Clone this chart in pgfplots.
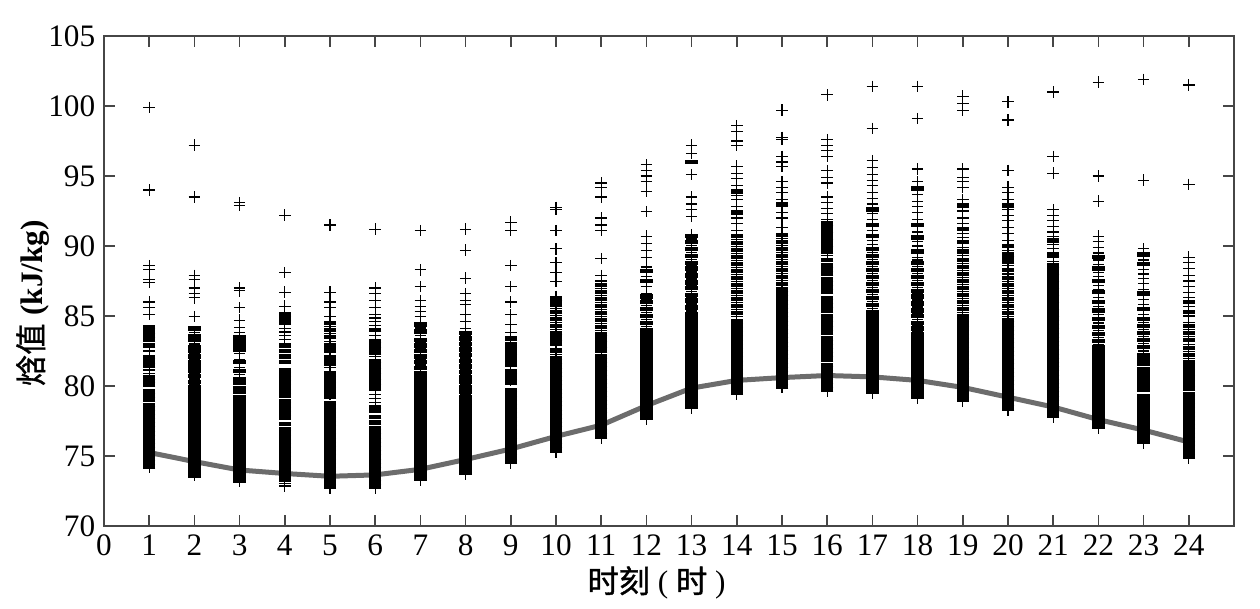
\documentclass[border=0pt]{standalone}
\usepackage{fontspec}
\setmainfont{Liberation Serif}
\newfontfamily\cjk[FakeBold=1.2]{Noto Sans CJK SC}
\usepackage{pgfplots}
\pgfplotsset{compat=1.18}
\definecolor{meanline}{RGB}{108,108,108}
\definecolor{frame}{RGB}{70,70,70}

\begin{document}
\begin{tikzpicture}
\begin{axis}[
  scale only axis, width=452pt, height=196pt,
  xmin=0, xmax=25, ymin=70, ymax=105,
  xtick={0,...,24}, ytick={70,75,...,105},
  tick align=inside, major tick length=4.5pt,
  axis line style={frame, line width=0.8pt},
  every tick/.style={frame, line width=0.6pt},
  tick label style={font=\fontsize{12.5}{14}\selectfont},
  /pgf/number format/assume math mode=true,
  xlabel={{\cjk 时刻} ( {\cjk 时} )},
  ylabel={{\cjk 焓值} \textbf{(kJ/kg)}},
  label style={font=\fontsize{12.5}{14}\selectfont},
  xlabel style={at={(axis description cs:0.489,-0.116)}, anchor=center},
  ylabel style={at={(axis description cs:-0.063,0.455)}, anchor=center},
]
% dense parts of each column
\addplot[only marks, mark=-, mark size=2.5pt, line width=1.7pt, mark options={line width=1.7pt}, black] coordinates {
(1,74.2)(1,74.5)(1,74.8)(1,75.1)(1,75.4)(1,75.7)(1,76.0)(1,76.3)(1,76.6)(1,76.9)(1,77.2)(1,77.5)(1,77.8)(1,78.1)(1,78.4)(1,78.65)(1,79.0)(1,79.3)(1,79.6)(1,80.05)(1,80.35)(1,80.6)(1,81.45)(1,81.75)(1,82.05)(1,82.9)(1,83.3)(1,83.6)(1,83.9)(1,84.2)
(2,73.6)(2,73.9)(2,74.2)(2,74.5)(2,74.8)(2,75.1)(2,75.4)(2,75.7)(2,76.0)(2,76.3)(2,76.6)(2,76.9)(2,77.2)(2,77.5)(2,77.8)(2,78.1)(2,78.45)(2,78.75)(2,79.05)(2,79.35)(2,79.65)(2,79.9)(2,80.3)(2,80.7)(2,81.1)(2,81.4)(2,81.7)(2,82.1)(2,82.5)(2,82.8)(2,83.3)(2,83.55)(2,84.1)
(3,73.2)(3,73.5)(3,73.8)(3,74.1)(3,74.4)(3,74.7)(3,75.0)(3,75.3)(3,75.6)(3,75.9)(3,76.2)(3,76.5)(3,76.8)(3,77.1)(3,77.4)(3,77.7)(3,78.0)(3,78.3)(3,78.6)(3,78.9)(3,79.2)(3,79.55)(3,79.85)(3,80.2)(3,80.5)(3,81.05)(3,81.7)(3,82.6)(3,82.9)(3,83.2)(3,83.5)
(4,73.3)(4,73.6)(4,73.9)(4,74.2)(4,74.5)(4,74.8)(4,75.1)(4,75.4)(4,75.7)(4,76.0)(4,76.3)(4,76.6)(4,76.95)(4,77.3)(4,77.7)(4,78.0)(4,78.3)(4,78.6)(4,78.95)(4,79.3)(4,79.6)(4,79.9)(4,80.2)(4,80.5)(4,80.8)(4,81.1)(4,81.7)(4,82.1)(4,82.5)(4,82.9)(4,84.5)(4,84.8)(4,85.1)
(5,72.8)(5,73.1)(5,73.4)(5,73.7)(5,74.0)(5,74.3)(5,74.6)(5,74.9)(5,75.2)(5,75.5)(5,75.8)(5,76.1)(5,76.4)(5,76.7)(5,77.0)(5,77.3)(5,77.6)(5,77.9)(5,78.2)(5,78.5)(5,78.8)(5,79.2)(5,79.6)(5,80.0)(5,80.4)(5,80.8)(5,81.6)(5,82.0)(5,82.5)(5,82.9)(5,83.5)(5,84.0)(5,84.5)
(6,72.8)(6,73.1)(6,73.4)(6,73.7)(6,74.0)(6,74.3)(6,74.6)(6,74.9)(6,75.2)(6,75.5)(6,75.8)(6,76.1)(6,76.4)(6,76.7)(6,77.0)(6,77.4)(6,77.8)(6,78.2)(6,78.5)(6,79.8)(6,80.2)(6,80.6)(6,81.0)(6,81.4)(6,81.8)(6,82.4)(6,82.9)(6,83.2)(6,84.0)
(7,73.4)(7,73.7)(7,74.0)(7,74.3)(7,74.6)(7,74.9)(7,75.2)(7,75.5)(7,75.8)(7,76.1)(7,76.4)(7,76.7)(7,77.0)(7,77.3)(7,77.6)(7,77.9)(7,78.2)(7,78.5)(7,78.8)(7,79.1)(7,79.4)(7,79.7)(7,80.0)(7,80.3)(7,80.6)(7,80.9)(7,81.3)(7,81.7)(7,82.1)(7,82.5)(7,82.9)(7,83.3)(7,83.9)(7,84.4)
(8,73.8)(8,74.1)(8,74.4)(8,74.7)(8,75.0)(8,75.3)(8,75.6)(8,75.9)(8,76.2)(8,76.5)(8,76.8)(8,77.1)(8,77.4)(8,77.7)(8,78.0)(8,78.3)(8,78.6)(8,78.9)(8,79.2)(8,79.6)(8,79.9)(8,80.3)(8,80.6)(8,81.0)(8,81.4)(8,81.8)(8,82.2)(8,82.6)(8,83.0)(8,83.4)(8,83.8)
(9,74.6)(9,74.9)(9,75.2)(9,75.5)(9,75.8)(9,76.1)(9,76.4)(9,76.7)(9,77.0)(9,77.3)(9,77.6)(9,77.9)(9,78.2)(9,78.5)(9,78.8)(9,79.1)(9,79.4)(9,79.7)(9,80.2)(9,80.6)(9,81.0)(9,81.5)(9,81.9)(9,82.4)(9,82.9)(9,83.4)
(10,75.4)(10,75.7)(10,76.0)(10,76.3)(10,76.6)(10,76.9)(10,77.2)(10,77.5)(10,77.8)(10,78.1)(10,78.4)(10,78.7)(10,79.0)(10,79.3)(10,79.6)(10,79.9)(10,80.2)(10,80.5)(10,80.8)(10,81.1)(10,81.4)(10,81.7)(10,82.0)(10,82.5)(10,83.0)(10,83.4)(10,83.8)(10,84.3)(10,84.8)(10,85.3)(10,85.8)(10,86.2)
(11,76.4)(11,76.7)(11,77.0)(11,77.3)(11,77.6)(11,77.9)(11,78.2)(11,78.5)(11,78.8)(11,79.1)(11,79.4)(11,79.7)(11,80.0)(11,80.3)(11,80.6)(11,80.9)(11,81.2)(11,81.5)(11,81.8)(11,82.1)(11,82.5)(11,82.9)(11,83.3)(11,83.7)(11,84.2)(11,84.7)(11,85.2)(11,85.7)(11,86.2)(11,86.7)(11,87.2)
(12,77.7)(12,78.0)(12,78.3)(12,78.6)(12,78.9)(12,79.2)(12,79.5)(12,79.8)(12,80.1)(12,80.4)(12,80.7)(12,81.0)(12,81.3)(12,81.6)(12,81.9)(12,82.2)(12,82.5)(12,82.8)(12,83.1)(12,83.4)(12,83.7)(12,84.0)(12,84.5)(12,85.0)(12,85.5)(12,86.0)(12,86.4)(12,87.5)(12,88.2)
(13,78.5)(13,78.8)(13,79.1)(13,79.4)(13,79.7)(13,80.0)(13,80.3)(13,80.6)(13,80.9)(13,81.2)(13,81.5)(13,81.8)(13,82.1)(13,82.4)(13,82.7)(13,83.0)(13,83.3)(13,83.6)(13,83.9)(13,84.2)(13,84.5)(13,84.8)(13,85.1)(13,85.6)(13,86.1)(13,86.5)(13,87.0)(13,87.4)(13,87.9)(13,88.4)(13,88.8)(13,89.3)(13,89.8)(13,90.3)(13,90.7)(13,96.0)
(14,79.5)(14,79.8)(14,80.1)(14,80.4)(14,80.7)(14,81.0)(14,81.3)(14,81.6)(14,81.9)(14,82.2)(14,82.5)(14,82.8)(14,83.1)(14,83.4)(14,83.7)(14,84.0)(14,84.3)(14,84.6)(14,85.2)(14,85.7)(14,86.2)(14,86.7)(14,87.2)(14,87.7)(14,88.2)(14,88.7)(14,89.2)(14,89.7)(14,90.2)(14,90.7)(14,92.4)(14,93.9)
(15,79.95)(15,80.25)(15,80.55)(15,80.85)(15,81.15)(15,81.45)(15,81.75)(15,82.05)(15,82.35)(15,82.65)(15,82.95)(15,83.25)(15,83.55)(15,83.85)(15,84.15)(15,84.45)(15,84.75)(15,85.05)(15,85.35)(15,85.65)(15,85.95)(15,86.25)(15,86.55)(15,86.85)(15,87.3)(15,87.8)(15,88.3)(15,88.8)(15,89.3)(15,89.8)(15,90.3)(15,90.8)(15,93.0)
(16,79.7)(16,80.0)(16,80.3)(16,80.6)(16,80.9)(16,81.2)(16,81.5)(16,81.9)(16,82.2)(16,82.5)(16,82.8)(16,83.1)(16,83.4)(16,83.8)(16,84.1)(16,84.4)(16,84.7)(16,85.0)(16,85.4)(16,85.7)(16,86.0)(16,86.3)(16,86.7)(16,87.0)(16,87.3)(16,87.6)(16,88.0)(16,88.3)(16,88.6)(16,89.0)(16,89.6)(16,90.1)(16,90.6)(16,91.1)(16,91.6)
(17,79.6)(17,79.9)(17,80.2)(17,80.5)(17,80.8)(17,81.1)(17,81.4)(17,81.7)(17,82.0)(17,82.3)(17,82.6)(17,82.9)(17,83.2)(17,83.5)(17,83.8)(17,84.1)(17,84.4)(17,84.7)(17,85.0)(17,85.3)(17,85.8)(17,86.3)(17,86.8)(17,87.3)(17,87.8)(17,88.3)(17,88.8)(17,89.3)(17,89.8)(17,90.7)(17,91.5)(17,92.6)
(18,79.2)(18,79.5)(18,79.8)(18,80.1)(18,80.4)(18,80.7)(18,81.0)(18,81.3)(18,81.6)(18,81.9)(18,82.2)(18,82.5)(18,82.8)(18,83.1)(18,83.4)(18,83.7)(18,84.1)(18,84.5)(18,85.0)(18,85.4)(18,85.9)(18,86.4)(18,86.8)(18,87.3)(18,87.8)(18,88.3)(18,88.8)(18,89.6)(18,90.6)(18,91.5)(18,94.1)
(19,79.0)(19,79.3)(19,79.6)(19,79.9)(19,80.2)(19,80.5)(19,80.8)(19,81.1)(19,81.4)(19,81.7)(19,82.0)(19,82.3)(19,82.6)(19,82.9)(19,83.2)(19,83.5)(19,83.8)(19,84.1)(19,84.4)(19,84.7)(19,85.0)(19,85.5)(19,86.0)(19,86.5)(19,87.0)(19,87.5)(19,88.0)(19,88.5)(19,89.0)(19,89.6)(19,90.3)(19,91.2)(19,92.9)
(20,78.4)(20,78.7)(20,79.0)(20,79.3)(20,79.6)(20,79.9)(20,80.2)(20,80.5)(20,80.8)(20,81.1)(20,81.4)(20,81.7)(20,82.0)(20,82.3)(20,82.6)(20,82.9)(20,83.2)(20,83.5)(20,83.8)(20,84.1)(20,84.4)(20,84.7)(20,85.2)(20,85.7)(20,86.2)(20,86.7)(20,87.2)(20,87.7)(20,88.3)(20,88.9)(20,89.4)(20,90.0)(20,92.9)
(21,77.9)(21,78.2)(21,78.5)(21,78.8)(21,79.1)(21,79.4)(21,79.7)(21,80.0)(21,80.3)(21,80.6)(21,80.9)(21,81.2)(21,81.5)(21,81.8)(21,82.1)(21,82.4)(21,82.7)(21,83.0)(21,83.3)(21,83.6)(21,83.9)(21,84.2)(21,84.5)(21,84.8)(21,85.1)(21,85.6)(21,86.1)(21,86.6)(21,87.1)(21,87.6)(21,88.1)(21,88.6)(21,89.4)(21,90.4)
(22,77.1)(22,77.4)(22,77.7)(22,78.0)(22,78.3)(22,78.6)(22,78.9)(22,79.2)(22,79.5)(22,79.8)(22,80.1)(22,80.4)(22,80.7)(22,81.0)(22,81.3)(22,81.6)(22,81.9)(22,82.2)(22,82.5)(22,82.75)(22,83.2)(22,83.7)(22,84.2)(22,84.8)(22,85.4)(22,86.0)(22,86.7)(22,87.5)(22,88.4)(22,89.2)
(23,76.0)(23,76.3)(23,76.6)(23,76.9)(23,77.2)(23,77.5)(23,77.8)(23,78.1)(23,78.4)(23,78.7)(23,79.0)(23,79.3)(23,79.7)(23,80.0)(23,80.3)(23,80.6)(23,80.9)(23,81.2)(23,81.6)(23,81.9)(23,82.2)(23,82.8)(23,83.3)(23,83.8)(23,84.3)(23,84.8)(23,85.5)(23,86.6)(23,88.7)(23,89.4)
(24,74.95)(24,75.25)(24,75.55)(24,75.85)(24,76.15)(24,76.45)(24,76.75)(24,77.05)(24,77.35)(24,77.65)(24,77.95)(24,78.25)(24,78.55)(24,78.85)(24,79.15)(24,79.45)(24,79.8)(24,80.1)(24,80.5)(24,80.9)(24,81.3)(24,81.7)(24,82.2)(24,82.7)(24,83.3)(24,83.8)(24,84.3)(24,85.3)(24,86.0)
};
% single readings
\addplot[only marks, mark=+, mark size=2.3pt, line width=0.5pt, mark options={line width=0.5pt}, black] coordinates {
(1,74.2)(1,80.9)(1,81.15)(1,82.5)(1,85.1)(1,85.6)(1,86.0)(1,87.4)(1,87.6)(1,88.3)(1,88.6)(1,94.0)(1,99.9)
(2,73.6)(2,80.1)(2,80.5)(2,80.9)(2,81.25)(2,81.9)(2,82.3)(2,82.65)(2,83.0)(2,83.8)(2,84.95)(2,86.3)(2,86.6)(2,87.0)(2,87.6)(2,87.9)(2,93.5)(2,97.2)
(3,73.2)(3,80.8)(3,81.3)(3,81.9)(3,82.3)(3,83.8)(3,84.2)(3,84.7)(3,85.6)(3,86.8)(3,87.0)(3,92.9)(3,93.1)
(4,72.85)(4,73.05)(4,83.3)(4,83.6)(4,83.85)(4,84.1)(4,85.7)(4,86.7)(4,88.1)(4,92.2)
(5,72.7)(5,79.4)(5,79.8)(5,80.2)(5,80.6)(5,81.0)(5,81.3)(5,81.8)(5,82.2)(5,82.7)(5,83.2)(5,83.75)(5,84.25)(5,84.95)(5,85.6)(5,86.0)(5,86.7)(5,91.5)
(6,72.7)(6,78.8)(6,79.1)(6,79.4)(6,80.0)(6,80.4)(6,80.8)(6,81.2)(6,81.6)(6,82.1)(6,82.65)(6,83.6)(6,84.3)(6,84.6)(6,84.85)(6,85.1)(6,85.6)(6,86.1)(6,86.6)(6,87.0)(6,91.2)
(7,73.3)(7,81.5)(7,81.9)(7,82.7)(7,83.1)(7,83.6)(7,84.15)(7,84.95)(7,85.3)(7,85.7)(7,86.1)(7,87.1)(7,88.3)(7,91.1)
(8,73.7)(8,79.4)(8,80.1)(8,80.8)(8,81.2)(8,81.6)(8,82.0)(8,82.4)(8,82.8)(8,83.2)(8,83.6)(8,84.1)(8,84.6)(8,85.1)(8,85.8)(8,86.1)(8,86.6)(8,87.7)(8,89.7)(8,91.2)
(9,74.5)(9,80.4)(9,80.8)(9,81.2)(9,81.7)(9,82.15)(9,82.65)(9,83.1)(9,83.8)(9,84.4)(9,85.1)(9,86.0)(9,87.1)(9,88.6)(9,91.1)(9,91.7)
(10,75.3)(10,82.25)(10,82.7)(10,83.2)(10,83.6)(10,84.05)(10,84.55)(10,85.05)(10,85.55)(10,86.0)(10,86.4)(10,87.45)(10,88.1)(10,88.8)(10,89.8)(10,91.1)(10,92.6)(10,92.75)
(11,76.3)(11,82.7)(11,83.1)(11,83.5)(11,83.95)(11,84.45)(11,84.95)(11,85.45)(11,85.95)(11,86.45)(11,86.95)(11,87.5)(11,87.9)(11,89.1)(11,91.1)(11,91.5)(11,92.0)(11,93.5)(11,94.2)(11,94.5)
(12,77.6)(12,84.25)(12,84.75)(12,85.25)(12,85.75)(12,86.2)(12,86.6)(12,87.1)(12,87.8)(12,88.5)(12,89.2)(12,89.7)(12,90.2)(12,90.7)(12,92.45)(12,93.9)(12,94.6)(12,95.0)(12,95.4)(12,95.8)
(13,78.4)(13,85.35)(13,85.85)(13,86.3)(13,86.75)(13,87.2)(13,87.65)(13,88.15)(13,88.6)(13,89.05)(13,89.55)(13,90.05)(13,90.5)(13,90.8)(13,92.1)(13,92.6)(13,93.0)(13,93.5)(13,95.1)(13,96.6)(13,97.2)
(14,79.4)(14,84.95)(14,85.45)(14,85.95)(14,86.45)(14,86.95)(14,87.45)(14,87.95)(14,88.45)(14,88.95)(14,89.45)(14,89.95)(14,90.45)(14,91.1)(14,91.6)(14,92.0)(14,92.8)(14,93.3)(14,93.6)(14,94.3)(14,94.8)(14,95.2)(14,95.7)(14,97.2)(14,97.5)(14,98.2)(14,98.6)
(15,79.9)(15,87.05)(15,87.55)(15,88.05)(15,88.55)(15,89.05)(15,89.55)(15,90.05)(15,90.55)(15,91.3)(15,92.0)(15,92.4)(15,92.8)(15,93.3)(15,93.8)(15,94.2)(15,94.6)(15,95.7)(15,96.0)(15,96.4)(15,97.6)(15,97.75)(15,99.7)
(16,79.6)(16,89.3)(16,89.85)(16,90.35)(16,90.85)(16,91.35)(16,91.9)(16,92.3)(16,92.7)(16,93.1)(16,93.5)(16,94.5)(16,94.9)(16,95.4)(16,96.4)(16,96.8)(16,97.2)(16,97.6)(16,100.8)
(17,79.5)(17,85.55)(17,86.05)(17,86.55)(17,87.05)(17,87.55)(17,88.05)(17,88.55)(17,89.05)(17,89.55)(17,90.1)(17,90.4)(17,91.1)(17,91.9)(17,92.3)(17,93.0)(17,93.4)(17,93.8)(17,94.3)(17,94.7)(17,95.1)(17,95.6)(17,96.1)(17,98.4)(17,101.4)
(18,79.1)(18,83.9)(18,84.3)(18,84.75)(18,85.2)(18,85.65)(18,86.15)(18,86.6)(18,87.05)(18,87.55)(18,88.05)(18,88.55)(18,89.0)(18,89.2)(18,90.0)(18,90.3)(18,91.0)(18,91.9)(18,92.4)(18,92.8)(18,93.2)(18,93.7)(18,94.6)(18,95.5)(18,99.1)(18,101.4)
(19,78.9)(19,85.25)(19,85.75)(19,86.25)(19,86.75)(19,87.25)(19,87.75)(19,88.25)(19,88.75)(19,89.3)(19,89.9)(19,90.6)(19,90.9)(19,91.6)(19,92.0)(19,92.5)(19,93.3)(19,94.2)(19,94.6)(19,94.9)(19,95.5)(19,99.7)(19,100.2)(19,100.7)
(20,78.3)(20,84.95)(20,85.45)(20,85.95)(20,86.45)(20,86.95)(20,87.45)(20,88.0)(20,88.6)(20,89.15)(20,89.7)(20,90.4)(20,90.9)(20,91.3)(20,91.8)(20,92.2)(20,92.6)(20,93.3)(20,93.8)(20,94.2)(20,95.4)(20,99.0)(20,100.3)
(21,77.8)(21,85.35)(21,85.85)(21,86.35)(21,86.85)(21,87.35)(21,87.85)(21,88.35)(21,88.9)(21,89.2)(21,89.8)(21,90.1)(21,90.7)(21,91.0)(21,91.4)(21,91.8)(21,92.2)(21,92.6)(21,95.2)(21,96.4)(21,101.0)
(22,77.0)(22,82.95)(22,83.45)(22,83.95)(22,84.5)(22,85.1)(22,85.7)(22,86.3)(22,86.9)(22,87.2)(22,87.8)(22,88.1)(22,88.7)(22,89.0)(22,89.5)(22,89.9)(22,90.3)(22,90.7)(22,93.2)(22,95.0)(22,101.7)
(23,75.9)(23,82.5)(23,83.05)(23,83.55)(23,84.05)(23,84.55)(23,85.1)(23,85.8)(23,86.2)(23,86.9)(23,87.3)(23,87.7)(23,88.0)(23,88.3)(23,89.0)(23,89.8)(23,94.7)(23,101.9)
(24,74.85)(24,80.3)(24,80.7)(24,81.1)(24,81.5)(24,81.95)(24,82.45)(24,82.95)(24,83.55)(24,84.05)(24,84.55)(24,85.0)(24,85.7)(24,86.3)(24,86.7)(24,87.1)(24,87.5)(24,87.9)(24,88.4)(24,88.8)(24,89.2)(24,94.4)(24,101.5)
};
% hourly mean
\addplot[meanline, line width=2pt, no marks] coordinates {
(1,75.25)(2,74.6)(3,74.0)(4,73.75)(5,73.55)(6,73.65)(7,74.05)(8,74.75)(9,75.5)(10,76.4)(11,77.2)(12,78.6)
(13,79.85)(14,80.4)(15,80.6)(16,80.75)(17,80.65)(18,80.4)(19,79.9)(20,79.2)(21,78.5)(22,77.6)(23,76.85)(24,76.0)
};
\end{axis}
\path (current axis.south west) ++(-41.6pt,-33.2pt) rectangle ++(504pt,243.6pt);
\end{tikzpicture}
\end{document}
